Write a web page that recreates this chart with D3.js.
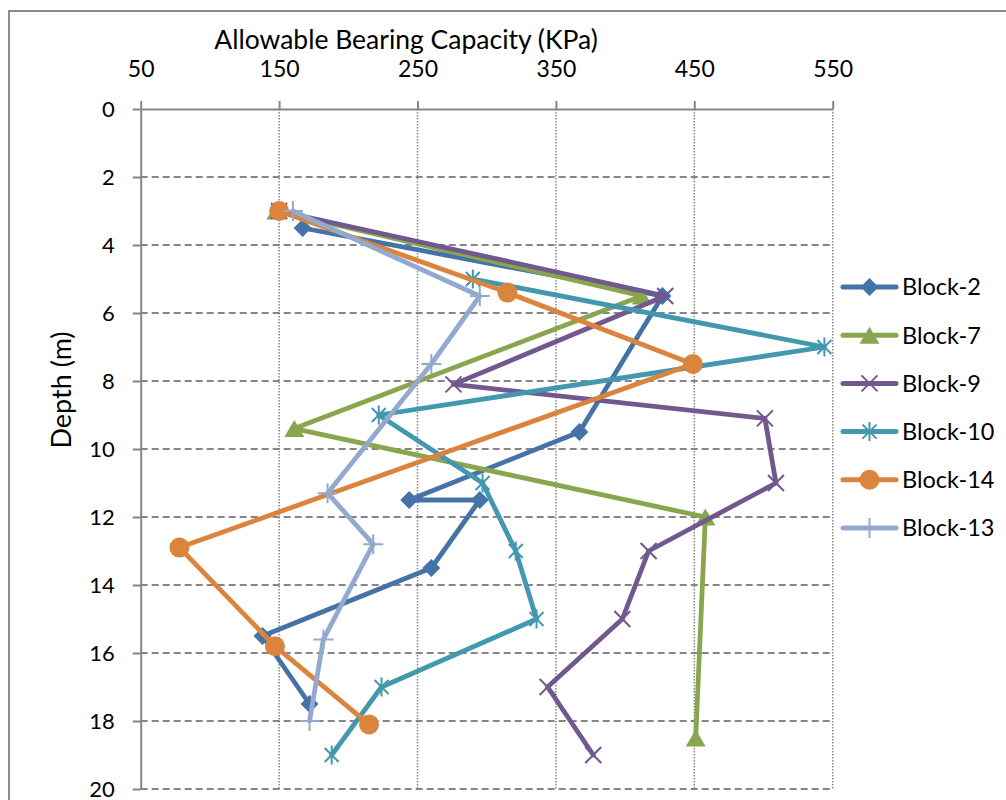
<!DOCTYPE html>
<html>
<head>
<meta charset="utf-8">
<script src="https://cdn.jsdelivr.net/npm/d3@7"></script>
<style>
  html, body { margin: 0; padding: 0; background: #ffffff; }
  svg { display: block; }
  text { font-family: Lato, "Open Sans", sans-serif; fill: #000; }
</style>
</head>
<body>
<svg id="chart" width="1006" height="800"></svg>
<script>
// Allowable bearing capacity (kPa) against depth (m) for each block
const seriesNames = ["Block-2", "Block-7", "Block-9", "Block-10", "Block-14", "Block-13"];
const seriesColors = ["#4572A7", "#89A54E", "#71588F", "#4198AF", "#DB843D", "#93A9CF"];
const seriesMarkers = ["diamond", "triangle", "x", "asterisk", "circle", "plus"];

const block2Capacity  = [167, 427, 367, 244, 295, 260, 138, 172];
const block2Depth     = [3.5, 5.5, 9.5, 11.5, 11.5, 13.5, 15.5, 17.5];

const block7Capacity  = [148, 412, 161, 458, 451];
const block7Depth     = [3, 5.5, 9.4, 12, 18.5];

const block9Capacity  = [150, 429, 276, 501, 509, 417, 398, 344, 377];
const block9Depth     = [3, 5.5, 8.1, 9.1, 11, 13, 15, 17, 19];

const block10Capacity = [290, 544, 222, 297, 321, 336, 224, 188];
const block10Depth    = [5, 7, 9, 11, 13, 15, 17, 19];

const block14Capacity = [150, 315, 449, 78, 147, 215];
const block14Depth    = [3, 5.4, 7.5, 12.9, 15.8, 18.1];

const block13Capacity = [160, 295, 260, 185, 218, 182, 172];
const block13Depth    = [3, 5.5, 7.5, 11.3, 12.8, 15.6, 18];

const capacityTicks = [50, 150, 250, 350, 450, 550];
const depthTicks    = [0, 2, 4, 6, 8, 10, 12, 14, 16, 18, 20];

const xTitle = "Allowable Bearing Capacity (KPa)";
const yTitle = "Depth (m)";

const capacities = [block2Capacity, block7Capacity, block9Capacity, block10Capacity, block14Capacity, block13Capacity];
const depths     = [block2Depth, block7Depth, block9Depth, block10Depth, block14Depth, block13Depth];

const series = seriesNames.map((name, i) => ({
  name,
  color: seriesColors[i],
  marker: seriesMarkers[i],
  points: capacities[i].map((c, j) => ({ c, d: depths[i][j] }))
}));

const svg = d3.select("#chart");
const axisGray = "#868686";

// chart frame
svg.append("rect")
  .attr("x", 9).attr("y", 11)
  .attr("width", 1100).attr("height", 900)
  .attr("fill", "#fff")
  .attr("stroke", "#8c8c8c").attr("stroke-width", 2);

const plot = { left: 140.7, right: 832.7, top: 109, bottom: 789 };

const x = d3.scaleLinear().domain([50, 550]).range([plot.left, plot.right]);
const y = d3.scaleLinear().domain([0, 20]).range([plot.top, plot.bottom]);

// gridlines
svg.append("g").selectAll("line")
  .data(depthTicks.filter(d => d > 0))
  .join("line")
  .attr("x1", plot.left).attr("x2", plot.right)
  .attr("y1", d => y(d)).attr("y2", d => y(d))
  .attr("stroke", axisGray).attr("stroke-width", 2)
  .attr("stroke-dasharray", "7,4");

svg.append("g").selectAll("line")
  .data(capacityTicks.filter(c => c > 50))
  .join("line")
  .attr("x1", d => x(d)).attr("x2", d => x(d))
  .attr("y1", plot.top).attr("y2", plot.bottom)
  .attr("stroke", axisGray).attr("stroke-width", 1.5)
  .attr("stroke-dasharray", "1.5,1.5");

// axes
const xAxis = svg.append("g")
  .attr("transform", `translate(0,${plot.top})`)
  .call(d3.axisTop(x).tickValues(capacityTicks).tickSize(8).tickSizeOuter(0).tickPadding(24));
const yAxis = svg.append("g")
  .attr("transform", `translate(${plot.left},0)`)
  .call(d3.axisLeft(y).tickValues(depthTicks).tickSize(8).tickSizeOuter(0).tickPadding(18));

[xAxis, yAxis].forEach(g => {
  g.select(".domain").attr("stroke", axisGray).attr("stroke-width", 2);
  g.selectAll(".tick line").attr("stroke", axisGray).attr("stroke-width", 2);
  g.selectAll(".tick text").attr("fill", "#000").attr("font-family", "Lato, sans-serif");
});
xAxis.selectAll(".tick text").attr("font-size", 23);
yAxis.selectAll(".tick text").attr("font-size", 22);

svg.append("text")
  .attr("x", 406).attr("y", 49)
  .attr("text-anchor", "middle")
  .attr("font-size", 26.5)
  .text(xTitle);

svg.append("text")
  .attr("transform", "translate(71,390) rotate(-90)")
  .attr("text-anchor", "middle")
  .attr("font-size", 27)
  .text(yTitle);

// marker drawing
function drawMarker(g, type, color) {
  switch (type) {
    case "diamond":
      g.append("path").attr("d", "M0,-9L9,0L0,9L-9,0Z").attr("fill", color);
      break;
    case "triangle":
      g.append("path").attr("d", "M0,-8.5L10,8.5L-10,8.5Z").attr("fill", color);
      break;
    case "x":
      g.append("path").attr("d", "M-8,-8L8,8M-8,8L8,-8")
        .attr("stroke", color).attr("stroke-width", 2).attr("fill", "none");
      break;
    case "asterisk":
      g.append("path").attr("d", "M-7,-7L7,7M-7,7L7,-7M0,-9.5L0,9.5")
        .attr("stroke", color).attr("stroke-width", 2).attr("fill", "none");
      break;
    case "circle":
      g.append("circle").attr("r", 10).attr("fill", color);
      break;
    case "plus":
      g.append("path").attr("d", "M-10,0L10,0M0,-10L0,10")
        .attr("stroke", color).attr("stroke-width", 2).attr("fill", "none");
      break;
  }
}

const line = d3.line().x(p => x(p.c)).y(p => y(p.d));

series.forEach(s => {
  const g = svg.append("g");
  g.append("path")
    .datum(s.points)
    .attr("d", line)
    .attr("fill", "none")
    .attr("stroke", s.color)
    .attr("stroke-width", 4.8)
    .attr("stroke-linejoin", "round")
    .attr("stroke-linecap", "round");
  g.selectAll("g.m")
    .data(s.points)
    .join("g")
    .attr("class", "m")
    .attr("transform", p => `translate(${x(p.c)},${y(p.d)})`)
    .each(function () { drawMarker(d3.select(this), s.marker, s.color); });
});

// legend
const legend = svg.append("g");
const legendTop = 287, legendStep = 48.2;
series.forEach((s, i) => {
  const ly = legendTop + i * legendStep;
  const item = legend.append("g").attr("transform", `translate(0,${ly})`);
  item.append("line")
    .attr("x1", 843).attr("x2", 896).attr("y1", 0).attr("y2", 0)
    .attr("stroke", s.color).attr("stroke-width", 5).attr("stroke-linecap", "round");
  const m = item.append("g").attr("transform", "translate(869.5,0)");
  drawMarker(m, s.marker, s.color);
  item.append("text")
    .attr("x", 902).attr("y", 0).attr("dy", "0.36em")
    .attr("font-size", 23.5)
    .text(s.name);
});
</script>
</body>
</html>
